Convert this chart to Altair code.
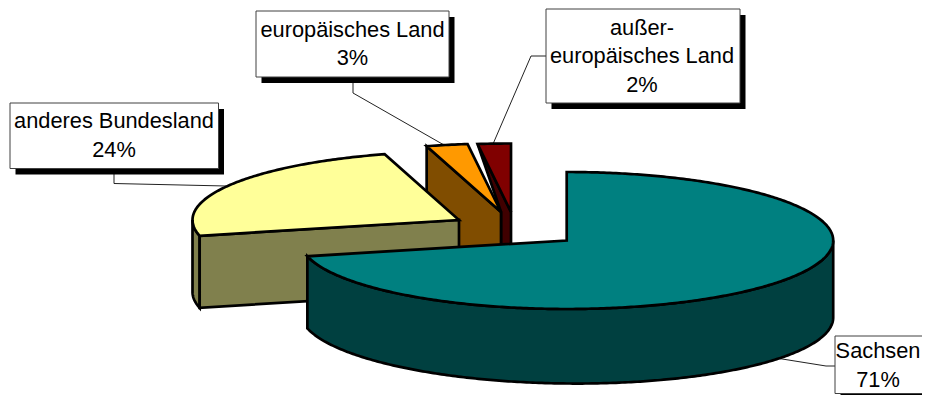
import math
import altair as alt

# Data
categories = ["Sachsen", "anderes Bundesland", "europäisches Land", "außer-europäisches Land"]
shares = [71.3, 24.2, 2.5, 2.0]
top_colors = ["#008080", "#FFFF99", "#FF9900", "#800000"]
wall_colors = ["#004040", "#80804D", "#804D00", "#400000"]

label_lines = [["Sachsen", "71%"], ["anderes Bundesland", "24%"],
               ["europäisches Land", "3%"], ["außer-", "europäisches Land", "2%"]]

# Layout (page pixels)
OFF = 8
A, B, DEPTH = 266.5, 68.5, 72
PERSPECTIVE = 2.5
apexes = [(566.7, 240.5), (459, 220), (501, 212), (511, 212)]
boxes = [(835, 336, 960, 393.5), (10, 103, 218.5, 168.5), (256, 11, 449, 77), (546, 9, 740, 103)]
leaders = [[(835, 366), (826, 366), (776, 358)],
           [(114, 168), (114, 183.5), (226, 186)],
           [(353, 80), (353, 93), (444, 145)],
           [(546, 56), (531, 56), (493, 144)]]
text_centers = [(878, 365.5), (114, 135.5), (352.5, 44), (642, 56)]
LINE = 28.5
FONT = 21.8


def pt(x, y):
    return [x - OFF, y - OFF]


def rim(i, deg, dy=0):
    cx, cy = apexes[i]
    t = math.radians(deg)
    extra = PERSPECTIVE * (1 + math.sin(t)) if dy else 0
    return (cx + A * math.sin(t), cy - B * math.cos(t) + dy + extra)


def arc_pts(i, d0, d1, dy=0, n=None):
    n = n or max(2, int(abs(d1 - d0) * 1.5))
    return [rim(i, d0 + (d1 - d0) * k / n, dy) for k in range(n + 1)]


def poly(points, fill):
    ring = [pt(*p) for p in points]
    ring.append(ring[0])
    return {"type": "Feature", "geometry": {"type": "Polygon", "coordinates": [ring]},
            "properties": {"fill": fill}}


def line(points):
    return {"type": "Feature", "geometry": {"type": "LineString", "coordinates": [pt(*p) for p in points]},
            "properties": {}}


# Slice angles, clockwise from 12 o'clock
edges = [0.0]
for s in shares:
    edges.append(edges[-1] + s / sum(shares) * 360)

slices = []
# außer-europäisches Land: cut face and top
i = 3
ax, ay = apexes[i]
ox, oy = apexes[2]
c = rim(i, edges[3])
slices.append(poly([c, (ax, ay), (ax, ay + DEPTH), (ox, oy + DEPTH), (ox, oy)], wall_colors[i]))
slices.append(poly([(ax, ay)] + arc_pts(i, edges[3], edges[4]), top_colors[i]))
# europäisches Land: cut face and top
i = 2
ax, ay = apexes[i]
c = rim(i, edges[2])
slices.append(poly([c, (ax, ay), (ax, ay + DEPTH), (c[0], c[1] + DEPTH)], wall_colors[i]))
slices.append(poly([(ax, ay)] + arc_pts(i, edges[2], edges[3]), top_colors[i]))
# anderes Bundesland: cut face, rim wall and top
i = 1
ax, ay = apexes[i]
c = rim(i, edges[1])
slices.append(poly(arc_pts(i, edges[1], 270) + arc_pts(i, 270, edges[1], DEPTH), wall_colors[i]))
slices.append(poly([c, (ax, ay), (ax, ay + DEPTH), (c[0], c[1] + DEPTH)], wall_colors[i]))
slices.append(poly([(ax, ay)] + arc_pts(i, edges[1], edges[2]), top_colors[i]))
# Sachsen: rim wall and top
i = 0
ax, ay = apexes[i]
slices.append(poly(arc_pts(i, 90, edges[1]) + arc_pts(i, edges[1], 90, DEPTH), wall_colors[i]))
slices.append(poly([(ax, ay)] + arc_pts(i, edges[0], edges[1]), top_colors[i]))


def rect(b, dx=0, dy=0, fill="#ffffff"):
    x0, y0, x1, y1 = b
    return poly([(x0 + dx, y0 + dy), (x1 + dx, y0 + dy), (x1 + dx, y1 + dy), (x0 + dx, y1 + dy)], fill)


rows = []
for lines_, (tx, ty) in zip(label_lines, text_centers):
    for k, s in enumerate(lines_):
        rows.append({"text": s, "lon": tx - OFF, "lat": ty - OFF + (k - (len(lines_) - 1) / 2) * LINE})

fill_enc = alt.Fill("properties.fill:N", scale=None, legend=None)

slice_layer = alt.Chart(alt.Data(values=slices)).mark_geoshape(
    stroke="#000000", strokeWidth=2.7, strokeJoin="miter").encode(fill=fill_enc)
leader_layer = alt.Chart(alt.Data(values=[line(l) for l in leaders])).mark_geoshape(
    filled=False, stroke="#222222", strokeWidth=1)
shadow_layer = alt.Chart(alt.Data(values=[rect(b, 5.5, 6, "#000000") for b in boxes])).mark_geoshape(
    strokeWidth=0).encode(fill=fill_enc)
box_layer = alt.Chart(alt.Data(values=[rect(b) for b in boxes])).mark_geoshape(
    stroke="#404040", strokeWidth=1).encode(fill=fill_enc)
text_layer = alt.Chart(alt.Data(values=rows)).mark_text(
    font="Liberation Sans", fontSize=FONT, color="#000000", align="center", baseline="middle").encode(
    longitude="lon:Q", latitude="lat:Q", text="text:N")

chart = alt.layer(leader_layer, slice_layer, shadow_layer, box_layer, text_layer).project(
    type="identity", scale=1, translate=[0, 0]
).properties(width=914, height=387, padding=0, autosize=alt.AutoSizeParams(type="none"),
             background="#ffffff").configure_view(stroke=None)

chart.save("out.html", embed_options={"renderer": "svg", "actions": False})
